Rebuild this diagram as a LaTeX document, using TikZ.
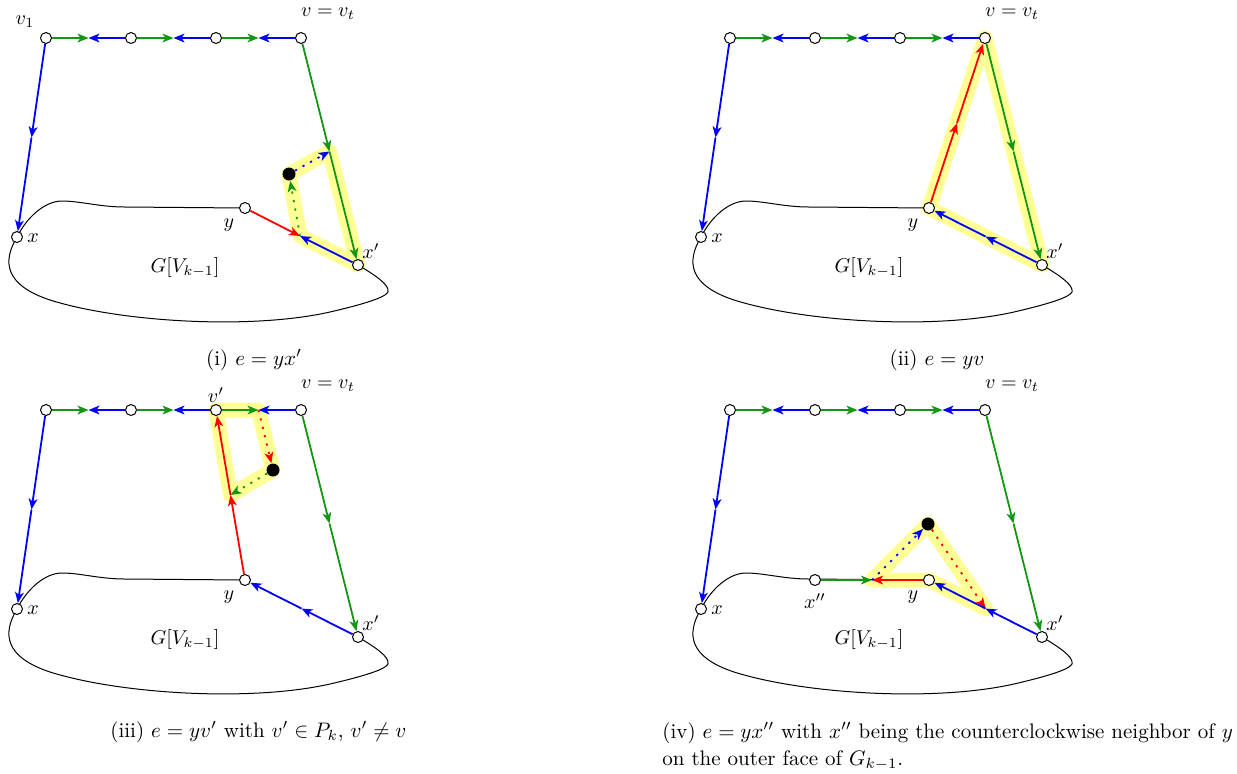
\RequirePackage{fix-cm}
\documentclass[tikz,border=0pt]{standalone}
\usetikzlibrary{arrows.meta}
\pgfdeclarelayer{bg}
\pgfsetlayers{bg,main}
\definecolor{grn}{RGB}{20,150,20}
\definecolor{hly}{RGB}{255,255,150}
\tikzset{
  vtx/.style={circle, draw, fill=white, inner sep=0pt, minimum size=5.5pt, line width=0.5pt},
  bdot/.style={circle, fill=black, inner sep=0pt, minimum size=6.5pt},
  ed/.style={line width=0.9pt, -{Stealth[length=5.5pt,width=4.4pt,inset=1.5pt]}},
  gr/.style={ed, draw=grn},
  bl/.style={ed, draw=blue},
  rd/.style={ed, draw=red},
  dt/.style={dash pattern=on 1.1pt off 3.2pt},
  hl/.style={draw=hly, line width=7.5pt, line join=round, line cap=round},
  bnd/.style={line width=0.5pt},
  lab/.style={inner sep=0pt, font=\fontsize{10}{12}\selectfont},
  captxt/.style={inner sep=0pt, font=\fontsize{10.5}{13.5}\selectfont}
}
\newcommand\panelnodes{%
  \node[vtx] (v1) at (46,38) {};
  \node[vtx] (a2) at (131,38) {};
  \node[vtx] (a3) at (216,38) {};
  \node[vtx] (vt) at (301,38) {};
  \coordinate (m1) at (88.5,38);
  \coordinate (m2) at (173.5,38);
  \coordinate (m3) at (258.5,38);
  \node[vtx] (x) at (17,237) {};
  \node[vtx] (y) at (245,208) {};
  \node[vtx] (xp) at (358,265) {};
  \coordinate (ml) at (31.5,137.5);
  \coordinate (mr) at (329.5,151.5);
  \coordinate (mb) at (301.5,236.5);
}
\newcommand\panelcommon{%
  \begin{pgfonlayer}{bg}
    \draw[bnd] (y.center) -- (125,207) .. controls (100,207) and (80,201) .. (62,201)
      .. controls (45,201) and (27,217) .. (x.center)
      .. controls (2,262) and (5,285) .. (50,300)
      .. controls (120,322) and (250,330) .. (330,312)
      .. controls (360,305) and (385,298) .. (388,292)
      .. controls (390,285) and (375,275) .. (xp.center);
  \end{pgfonlayer}
  \draw[gr] (v1) -- (m1); \draw[bl] (a2) -- (m1);
  \draw[gr] (a2) -- (m2); \draw[bl] (a3) -- (m2);
  \draw[gr] (a3) -- (m3); \draw[bl] (vt) -- (m3);
  \draw[bl] (v1) -- (ml); \draw[bl] (ml) -- (x);
  \draw[gr] (vt) -- (mr); \draw[gr] (mr) -- (xp);
  \node[lab] (lx) at (33,238) {$x$};
  \node[lab] (lxp) at (371,251) {$x'$};
  \node[lab] (ly) at (229,225) {$y$};
  \node[lab] (lvt) at (328,14) {$v=v_t$};
  \node[lab] (lG) at (185,267) {$G[V_{k-1}]$};
}
\begin{document}
\begin{tikzpicture}[x=0.5pt,y=-0.5pt]
\useasboundingbox (0,0) rectangle (1237,773);

% ---------- panel (i)
\begin{scope}[name prefix=A-]
  \panelnodes
  \coordinate (P) at (300,236);
  \node[bdot] (D) at (289,174) {};
  \begin{pgfonlayer}{bg}
    \draw[hl] (P) -- (D.center) -- (mr) -- (xp.center) -- cycle;
  \end{pgfonlayer}
  \panelcommon
  \draw[rd] (y) -- (P);
  \draw[bl] (xp) -- (P);
  \draw[gr,dt] (P) -- (D);
  \draw[bl,dt] (D) -- (mr);
  \node[lab] (lv1) at (25,22) {$v_1$};
  \node[captxt] (capi) at (254,360) {(i) $e=yx'$};
\end{scope}

% ---------- panel (ii)
\begin{scope}[shift={(684,0)}, name prefix=B-]
  \panelnodes
  \coordinate (my) at (273,123);
  \begin{pgfonlayer}{bg}
    \draw[hl] (y.center) -- (vt.center) -- (xp.center) -- cycle;
  \end{pgfonlayer}
  \panelcommon
  \draw[rd] (y) -- (my); \draw[rd] (my) -- (vt);
  \draw[bl] (xp) -- (mb); \draw[bl] (mb) -- (y);
  \node[captxt] (capii) at (253,360) {(ii) $e=yv$};
\end{scope}

% ---------- panel (iii)
\begin{scope}[shift={(0,372)}, name prefix=C-]
  \panelnodes
  \coordinate (Q) at (230.5,123);
  \node[bdot] (D) at (273,98) {};
  \begin{pgfonlayer}{bg}
    \draw[hl] (a3.center) -- (m3) -- (D.center) -- (Q) -- cycle;
  \end{pgfonlayer}
  \panelcommon
  \draw[rd] (y) -- (Q); \draw[rd] (Q) -- (a3);
  \draw[rd,dt] (m3) -- (D);
  \draw[gr,dt] (D) -- (Q);
  \draw[bl] (xp) -- (mb); \draw[bl] (mb) -- (y);
  \node[lab] (lvp) at (216,23) {$v'$};
\end{scope}
\node[captxt, anchor=base west] (capiii) at (110,737) {(iii) $e=yv'$ with $v'\in P_k$, $v'\neq v$};

% ---------- panel (iv)
\begin{scope}[shift={(684,372)}, name prefix=D-]
  \panelnodes
  \node[vtx] (xpp) at (131,208) {};
  \coordinate (R) at (188,208);
  \node[bdot] (D) at (244,152) {};
  \begin{pgfonlayer}{bg}
    \draw[hl] (R) -- (D.center) -- (mb) -- (y.center) -- cycle;
  \end{pgfonlayer}
  \panelcommon
  \draw[gr] (xpp) -- (R);
  \draw[rd] (y) -- (R);
  \draw[bl,dt] (R) -- (D);
  \draw[rd,dt] (D) -- (mb);
  \draw[bl] (xp) -- (mb); \draw[bl] (mb) -- (y);
  \node[lab] (lxpp) at (131,229) {$x''$};
\end{scope}
\node[captxt, anchor=base west] (capiv1) at (662,738) {(iv) $e=yx''$ with $x''$ being the counterclockwise neighbor of $y$};
\node[captxt, anchor=base west] (capiv2) at (662,765) {on the outer face of $G_{k-1}$.};
\end{tikzpicture}
\end{document}
